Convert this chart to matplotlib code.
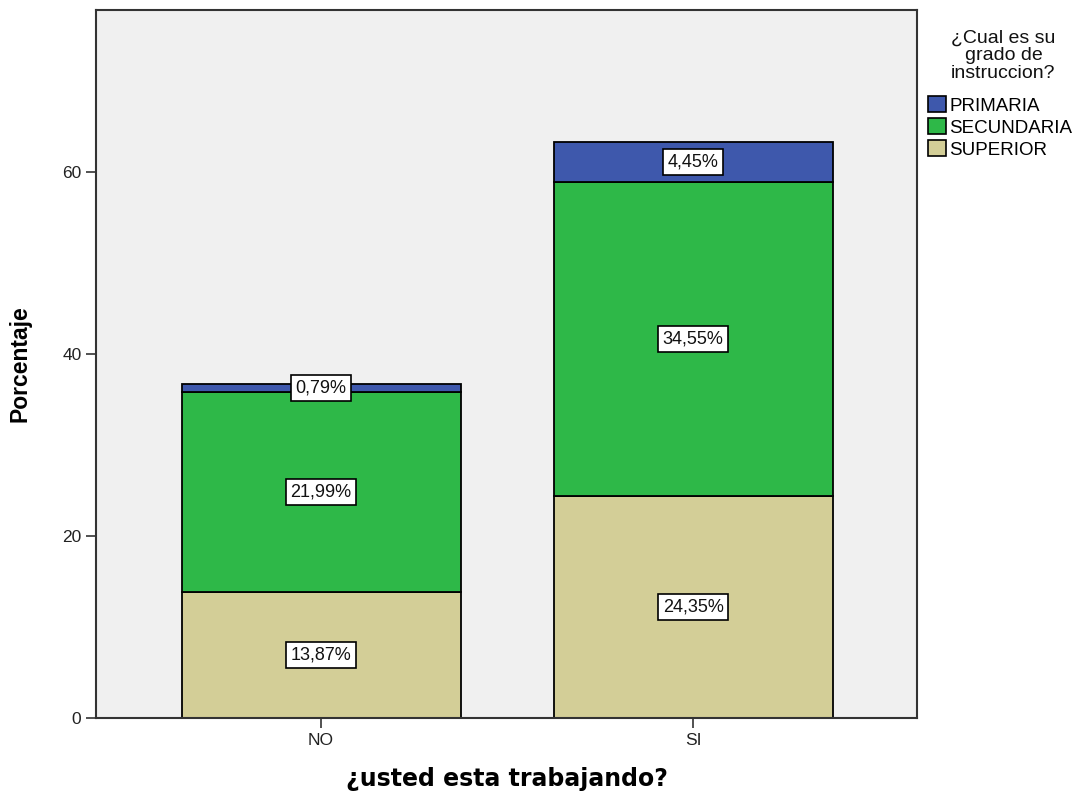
import numpy as np
import matplotlib.pyplot as plt
from matplotlib.patches import Patch

plt.rcParams['font.family'] = ['Liberation Sans', 'DejaVu Sans']

categories = ['NO', 'SI']
niveles = ['PRIMARIA', 'SECUNDARIA', 'SUPERIOR']
superior = [13.87, 24.35]
secundaria = [21.99, 34.55]
primaria = [0.79, 4.45]
colores = {'PRIMARIA': '#3e58ac', 'SECUNDARIA': '#2eb848', 'SUPERIOR': '#d3ce97'}

fig = plt.figure(figsize=(10.86, 7.94), dpi=100)
ax = fig.add_axes([0.0884, 0.0957, 0.756, 0.8917])
ax.set_facecolor('#f0f0f0')

x = np.arange(len(categories))
width = 0.75
bottom = np.zeros(len(categories))
for name, vals in [('SUPERIOR', superior), ('SECUNDARIA', secundaria), ('PRIMARIA', primaria)]:
    vals = np.array(vals)
    ax.bar(x, vals, width, bottom=bottom, color=colores[name],
           edgecolor='black', linewidth=1.3, zorder=2)
    for xi, b, v in zip(x, bottom, vals):
        ax.text(xi, b + v / 2, f'{v:.2f}%'.replace('.', ','), ha='center', va='center',
                fontsize=13, color='#111111', zorder=3,
                bbox=dict(boxstyle='square,pad=0.25', facecolor='white',
                          edgecolor='black', linewidth=1.2))
    bottom += vals

ax.set_xlim(-0.605, 1.602)
ax.set_ylim(0, 77.8)
ax.set_xticks(x)
ax.set_xticklabels(categories)
ax.set_yticks([0, 20, 40, 60])
ax.tick_params(axis='both', direction='out', length=7, width=1.2,
               labelsize=12.5, color='#333333', labelcolor='#222222')
for s in ax.spines.values():
    s.set_color('#333333')
    s.set_linewidth(1.5)

ax.set_ylabel('Porcentaje', fontsize=16.5, fontweight='bold', labelpad=22)
ax.set_xlabel('¿usted esta trabajando?', fontsize=17, fontweight='bold',
              family=['DejaVu Sans'], labelpad=14)

# legend title drawn separately so the gap above the entries can be set
fig.text(0.924, 0.963, '¿Cual es su\ngrado de\ninstruccion?', ha='center', va='top',
         fontsize=14, linespacing=1.08, multialignment='center', color='#111111')
handles = [Patch(facecolor=colores[n], edgecolor='black', linewidth=1.2) for n in niveles]
fig.legend(handles, niveles, loc='upper left', bbox_to_anchor=(0.842, 0.895),
           frameon=False, fontsize=13.5, handlelength=1.0, handleheight=0.9,
           handletextpad=0.15, labelspacing=0.2, borderpad=0.2)

fig.savefig('out.png', dpi=100)
